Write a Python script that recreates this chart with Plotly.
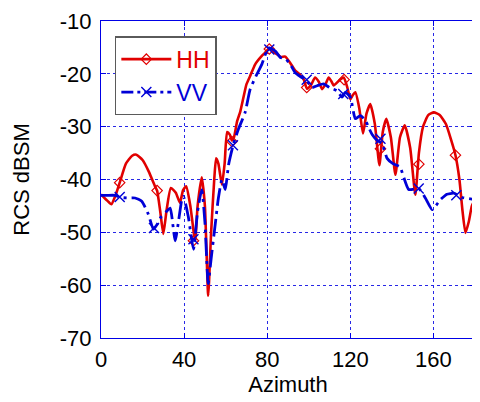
import plotly.graph_objects as go

# HH curve
hh_az = [0, 3, 5, 7, 9, 12, 15, 17, 20, 23, 26, 27, 28.5, 30, 31.5, 33.6, 36, 38, 39.5, 41, 43, 45.3, 46.5, 48.5, 50, 51.6,
         53, 54.5, 55.4, 56.5, 58.2, 59.5, 60.7, 62, 63, 64, 65.5, 67, 68.6, 70, 71.8, 74.2, 77.4, 79, 81.1, 83, 84.7, 86.5,
         88.7, 91, 93.5, 95.9, 97.5, 99.1, 101, 103, 104.8, 106.4, 108, 109.6, 111, 112, 114.5, 116.8, 118.5, 120, 121.2,
         122.4, 124.3, 126.1, 127.8, 129.6, 131.8, 134, 135.6, 137.3, 139.5, 141.7, 143.9, 146.2, 148.8, 151.3, 153, 155,
         157.5, 160.2, 163, 166, 168.5, 170.6, 172.5, 174, 175.4, 177, 178.5, 180]
hh_db = [-42.8, -44, -44.7, -43, -40.6, -37, -35.5, -35.3, -36.3, -38.5, -41.3, -42.1, -46, -50.3, -46, -41.6, -42.5, -44.4, -42, -41.3, -45, -51.6, -45, -39.6, -45, -62,
         -50, -40, -36, -37, -41, -37, -31, -31.5, -32.6, -32, -29, -27.2, -24.4, -22, -20.4, -18.2, -16.6, -16, -15.1, -15.8, -16.3, -16.8,
         -16.75, -17.9, -19.4, -20.2, -21, -22.8, -22.2, -20.7, -21.5, -22.9, -22, -20.7, -21.5, -22.2, -21.3, -20.7, -22.5, -24.8, -24,
         -23.5, -26.5, -31.3, -27.5, -25.7, -29.5, -37.3, -31, -28.5, -32, -39.1, -32, -29.75, -34, -42.9, -35, -30,
         -27.8, -27.3, -27.8, -29.5, -32.5, -35.4, -40, -46, -50.1, -48, -45, -43.8]

# VV curve
vv_az = [0, 3, 6.7, 9.5, 13, 16.4, 19.6, 22.8, 25.2, 27, 29, 31.6, 33.3, 35.7, 38.9, 39.7, 42, 44.5, 46.5, 48.5, 50, 51.6,
         53, 55, 56.5, 58.2, 59.8, 61.4, 63.8, 66.2, 69.4, 71.8, 75, 77.4, 80.6, 83.9, 86.3, 89, 91.5, 93.5, 95.9, 99.1,
         101.5, 104, 107.1, 110, 113.6, 116, 117.6, 120, 122.4, 124.8, 127.2, 128.8, 130.5, 132.9, 135.3, 137.7, 140.5,
         143.8, 148.1, 152.9, 156.1, 159.4, 163.4, 166.5, 169.8, 173.8, 180]
vv_db = [-43, -43, -43, -43.4, -43.5, -43.5, -44.1, -46.6, -49.4, -48.5, -47, -46, -45.4, -51.6, -43.8, -43.2, -47, -53.2, -46, -41.9, -48, -59.7,
         -55, -48.4, -43.5, -40, -41.9, -37.2, -33.2, -30.4, -27.25, -22.9, -20.1, -18.2, -15.1, -15.7, -16.9, -17.2, -18.5, -19.8, -20.5, -21.3,
         -22.6, -22.25, -21.9, -22.6, -23.2, -24.4, -23.5, -24.4, -28.5, -27.9, -28.8, -30.1, -31.5, -32.6, -33.2, -36, -37,
         -37.6, -41.9, -41.7, -43.5, -45.7, -43.8, -42.8, -42.6, -43.4, -43.8]

# marker positions
hh_mk_az = [9, 27, 44.5, 63, 81, 99, 117, 134.5, 153, 170.6]
hh_mk_db = [-40.6, -42.1, -51.6, -32.8, -15.3, -22.6, -21.1, -34.2, -37.1, -35.4]
vv_mk_az = [9, 25.5, 44.5, 63.5, 81, 99, 116.6, 134.5, 152.9, 171]
vv_mk_db = [-43.3, -49.2, -51.3, -33.5, -15.4, -21.1, -23.8, -32.3, -41.7, -43]

x_ticks = [0, 40, 80, 120, 160]
y_ticks = [-70, -60, -50, -40, -30, -20, -10]
y_ticktext = ["-70", "-60", "-50", "-40", "-30", "-20", "-10"]

RED = "rgb(225,0,0)"
BLUE = "rgb(0,0,215)"
AXC = "rgb(0,0,230)"
FONT = "Liberation Sans, Arial, sans-serif"
VV_DASH = "18px,5px,3px,5px"

fig = go.Figure()
fig.add_trace(go.Scatter(x=hh_az, y=hh_db, mode="lines", line=dict(color=RED, width=2.6, shape="spline", smoothing=0.5),
                         showlegend=False, hoverinfo="skip"))
fig.add_trace(go.Scatter(x=hh_mk_az, y=hh_mk_db, mode="markers",
                         marker=dict(symbol="diamond-open", size=8, color=RED, line=dict(width=1.2)),
                         showlegend=False))
fig.add_trace(go.Scatter(x=vv_az, y=vv_db, mode="lines", line=dict(color=BLUE, width=2.8, dash=VV_DASH, shape="spline", smoothing=0.5),
                         showlegend=False))
fig.add_trace(go.Scatter(x=vv_mk_az, y=vv_mk_db, mode="markers",
                         marker=dict(symbol="x-thin-open", size=10, color=BLUE, line=dict(width=1.4, color=BLUE)),
                         showlegend=False))
# legend entries
fig.add_trace(go.Scatter(x=[None], y=[None], mode="lines+markers", name="<span style='color:rgb(225,0,0)'>HH</span>",
                         line=dict(color=RED, width=2.6),
                         marker=dict(symbol="diamond-open", size=8, color=RED, line=dict(width=1.2))))
fig.add_trace(go.Scatter(x=[None], y=[None], mode="lines+markers", name="<span style='color:rgb(0,0,215)'>VV</span>",
                         line=dict(color=BLUE, width=2.8, dash="12px,4px,3px,4px"),
                         marker=dict(symbol="x-thin-open", size=10, color=BLUE, line=dict(width=1.4, color=BLUE))))

axis_common = dict(showline=True, linecolor=AXC, linewidth=1.2, mirror="ticks", ticks="inside", ticklen=5,
                   tickcolor=AXC, showgrid=True, gridcolor="rgb(40,40,230)", griddash="dot", gridwidth=1,
                   zeroline=False, automargin=False, ticklabeloverflow="allow",
                   tickfont=dict(family=FONT, size=22, color="black"))

# page body has an 8px margin, so the figure is offset by 8px in the window
fig.update_layout(
    width=472, height=394,
    margin=dict(l=93, r=5, t=13, b=64),
    paper_bgcolor="white", plot_bgcolor="white",
    xaxis=dict(range=[0, 180], tickvals=x_ticks, ticklabelstandoff=1,
               title=dict(text="Azimuth", font=dict(family=FONT, size=22, color="black"), standoff=6),
               **axis_common),
    yaxis=dict(range=[-70, -10], tickvals=y_ticks, ticktext=y_ticktext, ticklabelstandoff=4,
               title=dict(text="RCS dBSM", font=dict(family=FONT, size=22, color="black"), standoff=24),
               **axis_common),
    legend=dict(x=0.037, y=0.952, xanchor="left", yanchor="top", bgcolor="white",
                bordercolor="rgb(90,90,90)", borderwidth=1.5,
                font=dict(family=FONT, size=23, color="black"),
                tracegroupgap=0, itemwidth=50),
    showlegend=True,
)

fig.write_html("out.html")
